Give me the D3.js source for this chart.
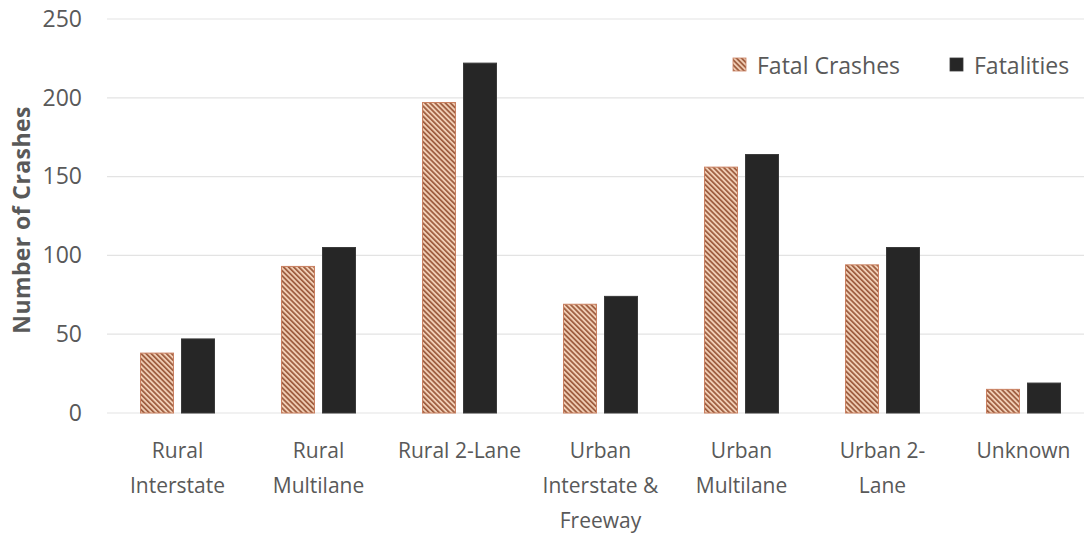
<!DOCTYPE html>
<html>
<head>
<meta charset="utf-8">
<script src="https://cdn.jsdelivr.net/npm/d3@7"></script>
<style>
  html, body { margin: 0; padding: 0; background: #fff; }
  svg { display: block; }
  text { font-family: "Open Sans", Lato, sans-serif; }
</style>
</head>
<body>
<svg id="chart" width="1084" height="537"></svg>
<script>
// Crash counts by roadway type
const categories = [
  ["Rural", "Interstate"],
  ["Rural", "Multilane"],
  ["Rural 2-Lane"],
  ["Urban", "Interstate &", "Freeway"],
  ["Urban", "Multilane"],
  ["Urban 2-", "Lane"],
  ["Unknown"]
];
const seriesNames = ["Fatal Crashes", "Fatalities"];
const fatalCrashes = [38, 93, 197, 69, 156, 94, 15];
const fatalities   = [47, 105, 222, 74, 164, 105, 19];
const yTicks = [0, 50, 100, 150, 200, 250];

const svg = d3.select("#chart");
const plot = { left: 107, right: 1094, top: 19, bottom: 413 };
const textColor = "#595959";

// diagonal hatch for the first series
const defs = svg.append("defs");
const pat = defs.append("pattern")
  .attr("id", "hatch")
  .attr("patternUnits", "userSpaceOnUse")
  .attr("width", 3.6).attr("height", 3.6)
  .attr("patternTransform", "rotate(-45)");
pat.append("rect").attr("width", 3.6).attr("height", 3.6).attr("fill", "#f0cdb4");
pat.append("rect").attr("x", 0).attr("width", 1.7).attr("height", 3.6).attr("fill", "#9c5b3d");

const x = d3.scaleBand()
  .domain(d3.range(categories.length))
  .range([plot.left, plot.right]);

const barW = 33, barGap = 8;
const y = d3.scaleLinear().domain([0, 250]).range([plot.bottom, plot.top]);

// gridlines
svg.append("g")
  .selectAll("line")
  .data(yTicks)
  .join("line")
  .attr("x1", plot.left).attr("x2", plot.right)
  .attr("y1", d => y(d)).attr("y2", d => y(d))
  .attr("stroke", "#e3e3e3")
  .attr("stroke-width", 1.2);

// y axis labels
const yAxis = d3.axisLeft(y).tickValues(yTicks).tickSize(0).tickPadding(25);
const yg = svg.append("g").attr("transform", `translate(${plot.left},0)`).call(yAxis);
yg.select(".domain").remove();
yg.selectAll("text")
  .attr("font-family", "'Open Sans', Lato, sans-serif")
  .attr("font-size", 23)
  .attr("fill", textColor);

// y axis title
svg.append("text")
  .attr("transform", `translate(30,220) rotate(-90)`)
  .attr("text-anchor", "middle")
  .attr("font-size", 23)
  .attr("font-weight", "bold")
  .attr("letter-spacing", 0.4)
  .attr("fill", textColor)
  .text("Number of Crashes");

// bars
const center = i => x(i) + x.bandwidth() / 2;
const series = [
  { name: seriesNames[0], values: fatalCrashes, fill: "url(#hatch)", stroke: "#c98061", offset: -barW - barGap / 2 },
  { name: seriesNames[1], values: fatalities, fill: "#262626", stroke: "#3a3a3a", offset: barGap / 2 }
];

series.forEach(s => {
  svg.append("g")
    .selectAll("rect")
    .data(s.values)
    .join("rect")
    .attr("x", (d, i) => center(i) + s.offset)
    .attr("width", barW)
    .attr("y", d => y(d))
    .attr("height", d => y(0) - y(d))
    .attr("fill", s.fill)
    .attr("stroke", s.stroke)
    .attr("stroke-width", 1);
});

// category labels
const xl = svg.append("g");
categories.forEach((lines, i) => {
  const t = xl.append("text")
    .attr("text-anchor", "middle")
    .attr("font-size", 21)
    .attr("fill", textColor);
  lines.forEach((ln, j) => {
    t.append("tspan")
      .attr("x", center(i))
      .attr("y", 458 + j * 35)
      .text(ln);
  });
});

// legend
const legendItems = [
  { name: seriesNames[0], fill: "url(#hatch)", stroke: "#c98061", x: 733 },
  { name: seriesNames[1], fill: "#262626", stroke: "#3a3a3a", x: 950 }
];
const lg = svg.append("g");
legendItems.forEach(it => {
  lg.append("rect")
    .attr("x", it.x).attr("y", 58)
    .attr("width", 13).attr("height", 13)
    .attr("fill", it.fill)
    .attr("stroke", it.stroke)
    .attr("stroke-width", 0.8);
  lg.append("text")
    .attr("x", it.x + 24).attr("y", 74)
    .attr("font-size", 23)
    .attr("fill", textColor)
    .text(it.name);
});
</script>
</body>
</html>
